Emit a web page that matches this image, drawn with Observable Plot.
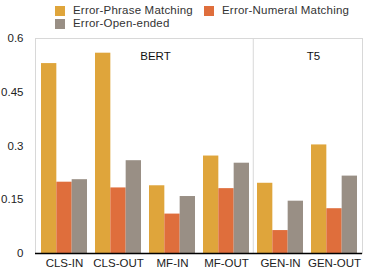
<!DOCTYPE html>
<html>
<head>
<meta charset="utf-8">
<script src="https://cdn.jsdelivr.net/npm/d3@7"></script>
<script src="https://cdn.jsdelivr.net/npm/@observablehq/plot@0.6"></script>
<style>
  body { margin: 0; background: #fff; font-family: Arial, "Liberation Sans", sans-serif; }
  #legend { display: grid; grid-template-columns: 149px 160px; width: 366px; padding: 4px 0 0 55px; box-sizing: border-box; height: 30px; font-size: 11.5px; letter-spacing: 0.2px; color: #333; line-height: 13px; }
  .item { display: flex; align-items: center; white-space: nowrap; }
  .sw { width: 10px; height: 10px; margin-right: 8px; flex: none; }
</style>
</head>
<body>
<div id="legend"></div>
<div id="chart"></div>
<script>
const categories = ["CLS-IN", "CLS-OUT", "MF-IN", "MF-OUT", "GEN-IN", "GEN-OUT"];
const seriesNames = ["Error-Phrase Matching", "Error-Numeral Matching", "Error-Open-ended"];
const phrase    = [0.530, 0.559, 0.189, 0.272, 0.196, 0.303];
const numeral   = [0.199, 0.183, 0.110, 0.181, 0.064, 0.125];
const openEnded = [0.206, 0.259, 0.159, 0.252, 0.146, 0.216];
const yTicks = [0, 0.15, 0.3, 0.45, 0.6];
const groupLabels = ["BERT", "T5"];
const colors = ["#dfa53b", "#df6e3c", "#998f85"];

const seriesValues = [phrase, numeral, openEnded];
const data = [];
seriesNames.forEach((s, si) => categories.forEach((c, ci) => data.push({category: c, series: s, si, value: seriesValues[si][ci]})));

// legend
const legend = document.getElementById("legend");
seriesNames.forEach((s, i) => {
  const it = document.createElement("div"); it.className = "item";
  const sw = document.createElement("div"); sw.className = "sw"; sw.style.background = colors[i];
  const t = document.createElement("span"); t.textContent = s;
  it.append(sw, t); legend.append(it);
});

const width = 366, height = 244, ml = 35, mr = 4, mt = 8, mb = 21;
const pi = 0.156, po = 0.078;
const band = d3.scaleBand().domain(categories).range([ml, width - mr]).paddingInner(pi).paddingOuter(po);
const bw = band.bandwidth(), step = band.step();

const barMarks = seriesNames.map((s, i) => Plot.barY(data.filter(d => d.si === i), {
  x: "category", y: "value", fill: "series",
  insetLeft: i * bw / 3, insetRight: (2 - i) * bw / 3
}));

const chart = Plot.plot({
  width, height, marginLeft: ml, marginRight: mr, marginTop: mt, marginBottom: mb,
  style: {fontFamily: "Arial, Liberation Sans, sans-serif", fontSize: "11.5px", color: "#222", background: "#fff"},
  x: {domain: categories, paddingInner: pi, paddingOuter: po, tickSize: 0, tickPadding: 5, label: null},
  y: {domain: [0, 0.6], ticks: yTicks, tickSize: 0, tickPadding: 12, label: null, tickFormat: d => String(d)},
  color: {domain: seriesNames, range: colors},
  marks: [
    Plot.frame({stroke: "#d8d8d8"}),
    Plot.ruleX(["GEN-IN"], {x: d => d, dx: -step / 2, stroke: "#d8d8d8"}),
    ...barMarks,
    Plot.ruleY([0], {stroke: "#000", strokeWidth: 1.5}),
    Plot.text([groupLabels[0]], {x: () => "MF-IN", y: () => 0.55, text: d => d, dx: -17, fontSize: 11.5, fill: "#111"}),
    Plot.text([groupLabels[1]], {x: () => "GEN-OUT", y: () => 0.55, text: d => d, dx: -21, fontSize: 11.5, fill: "#111"})
  ]
});
document.getElementById("chart").append(chart);
</script>
</body>
</html>
